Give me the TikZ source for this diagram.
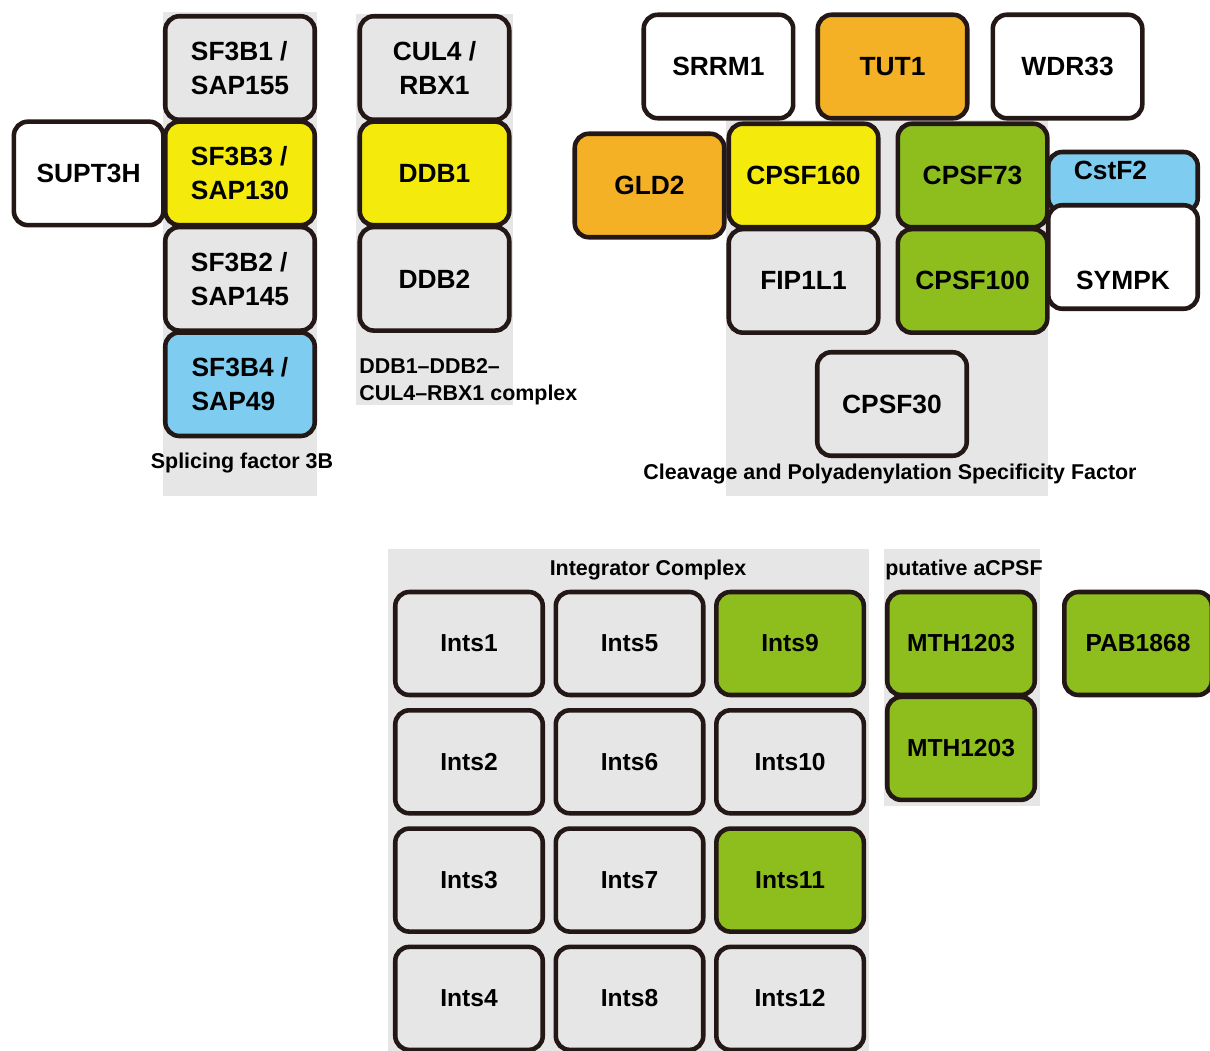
\documentclass[tikz,border=0pt]{standalone}
\usepackage{fontspec}
\setmainfont{Liberation Sans}
\usepackage{xcolor}
\usepackage{tikz}
\usetikzlibrary{positioning}

\definecolor{edge}{HTML}{231815}
\definecolor{bggray}{HTML}{E6E6E6}
\definecolor{pyellow}{HTML}{F4EA0C}
\definecolor{pgreen}{HTML}{8DBE1E}
\definecolor{porange}{HTML}{F4B125}
\definecolor{pblue}{HTML}{7ECDF0}

\begin{document}
\begin{tikzpicture}[
    x=0.02cm, y=-0.02cm,
    node distance=-1.5pt,
    prot/.style={draw=edge, line width=2.6pt, rounded corners=0.28cm, minimum width=2.99cm, minimum height=2.07cm, align=center, fill=bggray, inner sep=0pt, font=\fontsize{15}{19.3}\selectfont\bfseries},
    yel/.style={prot, fill=pyellow},
    grn/.style={prot, fill=pgreen},
    org/.style={prot, fill=porange},
    blu/.style={prot, fill=pblue},
    wht/.style={prot, fill=white},
    cell/.style={prot, minimum width=2.95cm, minimum height=2.06cm, font=\fontsize{14}{17}\selectfont\bfseries},
    grplabel/.style={inner sep=0pt, font=\fontsize{12.2}{15.2}\selectfont\bfseries}
]
\useasboundingbox (0,0) rectangle (1210,1051);

% complex backgrounds
\fill[bggray] (163,12) rectangle (317,496);
\fill[bggray] (356,14) rectangle (513,405);
\fill[bggray] (726,120) rectangle (1048,496);
\fill[bggray] (388,549) rectangle (869,1051);
\fill[bggray] (884,549) rectangle (1040,806);

% splicing factor 3B
\node[prot, align=left] (sf3b1) at (240,68) {SF3B1 /\\SAP155};
\node[yel, align=left, below=of sf3b1] (sf3b3) {SF3B3 /\\SAP130};
\node[prot, align=left, below=of sf3b3] (sf3b2) {SF3B2 /\\SAP145};
\node[blu, align=left, below=of sf3b2] (sf3b4) {SF3B4 /\\SAP49};
\node[wht, left=of sf3b3] (supt3h) {SUPT3H};
\node[grplabel] (sf3blabel) at (242,463) {Splicing factor 3B};

% DDB1-DDB2-CUL4-RBX1
\node[prot] (cul4) at (434.5,68) {CUL4 /\\RBX1};
\node[yel, below=of cul4] (ddb1) {DDB1};
\node[prot, below=of ddb1] (ddb2) {DDB2};
\node[grplabel, anchor=west, align=left] (ddblabel) at (359,382) {DDB1--DDB2--\\CUL4--RBX1 complex};

% CPSF
\node[org] (tut1) at (892.5,66.5) {TUT1};
\node[wht, left=0.4cm of tut1] (srrm1) {SRRM1};
\node[wht, right=0.42cm of tut1] (wdr33) {WDR33};
\node[yel] (cpsf160) at (803.5,175.5) {CPSF160};
\node[org] (gld2) at (649.5,185.5) {GLD2};
\node[grn, right=0.3cm of cpsf160] (cpsf73) {CPSF73};
\node[prot, below=of cpsf160] (fip1l1) {FIP1L1};
\node[grn, below=of cpsf73] (cpsf100) {CPSF100};
\node[blu, minimum height=1.2cm] (cstf2) at (1123,182) {\raisebox{0.06cm}[0pt][0pt]{CstF2}\hspace*{0.5cm}};
\node[wht] (sympk) at (1123,257) {\raisebox{-0.65cm}[0pt][0pt]{SYMPK}};
\node[prot] (cpsf30) at (892,404) {CPSF30};
\node[grplabel] (cpsflabel) at (890,474) {Cleavage and Polyadenylation Specificity Factor};

% Integrator complex
\node[grplabel] (intlabel) at (648,570) {Integrator Complex};
\node[cell] (ints1) at (469,643.5) {Ints1};
\node[cell, below=0.215cm of ints1] (ints2) {Ints2};
\node[cell, below=0.215cm of ints2] (ints3) {Ints3};
\node[cell, below=0.215cm of ints3] (ints4) {Ints4};
\node[cell, right=0.17cm of ints1] (ints5) {Ints5};
\node[cell, below=0.215cm of ints5] (ints6) {Ints6};
\node[cell, below=0.215cm of ints6] (ints7) {Ints7};
\node[cell, below=0.215cm of ints7] (ints8) {Ints8};
\node[cell, fill=pgreen, right=0.17cm of ints5] (ints9) {Ints9};
\node[cell, below=0.215cm of ints9] (ints10) {Ints10};
\node[cell, fill=pgreen, below=0.215cm of ints10] (ints11) {Ints11};
\node[cell, below=0.215cm of ints11] (ints12) {Ints12};

% putative aCPSF
\node[grplabel] (acpsflabel) at (964,570) {putative aCPSF};
\node[cell, fill=pgreen] (mtha) at (961,643.5) {MTH1203};
\node[cell, fill=pgreen, below=of mtha] (mthb) {MTH1203};
\node[cell, fill=pgreen, right=0.5cm of mtha] (pab1868) {PAB1868};
\end{tikzpicture}
\end{document}
